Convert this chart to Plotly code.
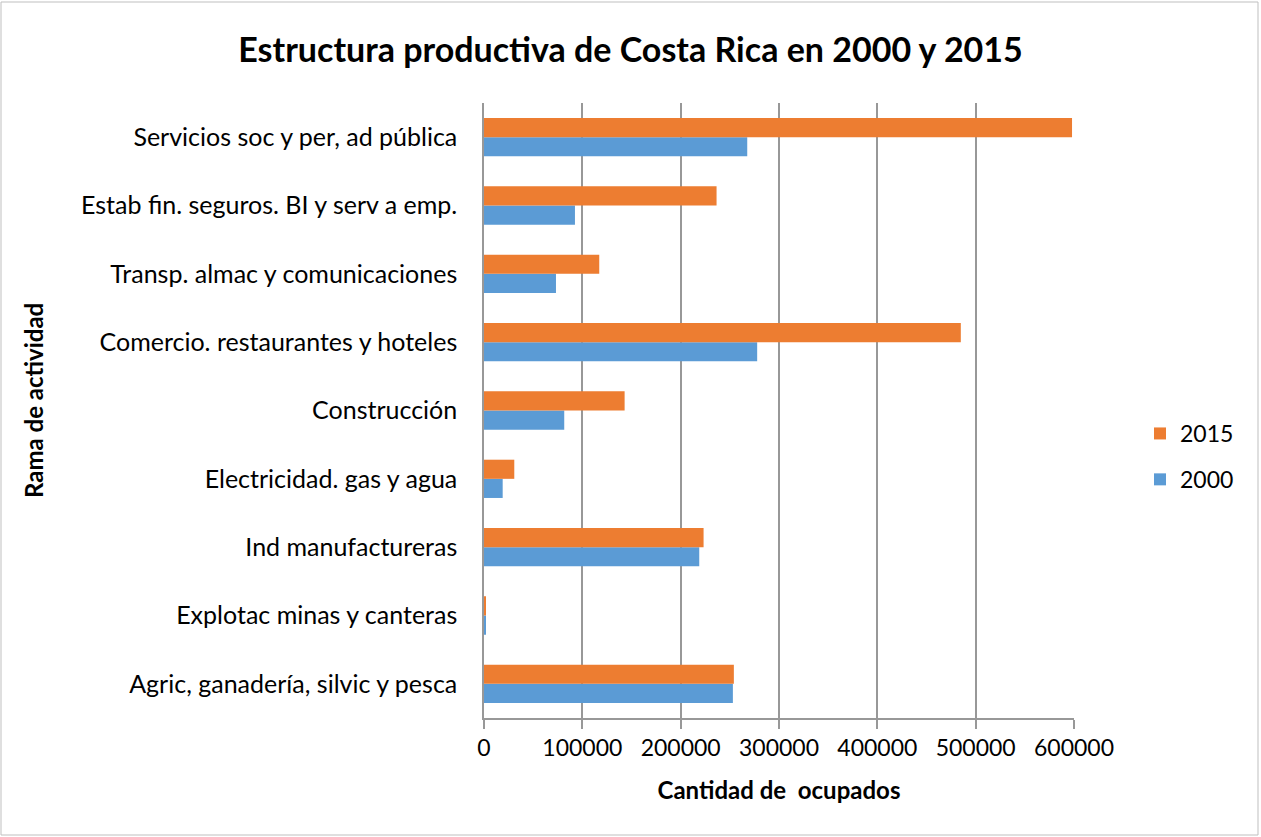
import plotly.graph_objects as go

categories = [
    "Agric, ganadería, silvic y pesca",
    "Explotac minas y canteras",
    "Ind manufactureras",
    "Electricidad. gas y agua",
    "Construcción",
    "Comercio. restaurantes y hoteles",
    "Transp. almac y comunicaciones",
    "Estab fin. seguros. BI y serv a emp.",
    "Servicios soc y per, ad pública",
]
values_2000 = [253100, 2000, 218900, 19000, 81600, 277800, 73200, 92500, 267700]
values_2015 = [254100, 1300, 223300, 30800, 143000, 484900, 117200, 236500, 598000]
x_ticks = [0, 100000, 200000, 300000, 400000, 500000, 600000]

FONT = "Lato"
W, H = 1261, 837
ML, MR, MT, MB = 484, 187, 103, 119
PW, PH = W - ML - MR, H - MT - MB

fig = go.Figure()
fig.add_trace(go.Bar(y=categories, x=values_2000, name="2000", orientation="h",
                     legendgroup="a", legendrank=2,
                     marker=dict(color="#5B9BD5", line=dict(width=0))))
fig.add_trace(go.Bar(y=categories, x=values_2015, name="2015", orientation="h",
                     legendgroup="b", legendrank=1,
                     marker=dict(color="#ED7D31", line=dict(width=0))))

def px_x(p):
    return (p - ML) / PW

def px_y(p):
    return (H - MB - p) / PH

fig.update_layout(
    width=W, height=H,
    margin=dict(l=ML, r=MR, t=MT, b=MB),
    paper_bgcolor="white", plot_bgcolor="white",
    barmode="group", bargap=0.44, bargroupgap=0,
    font=dict(family=FONT, color="#000000", size=23),
    title=dict(text="<b>Estructura productiva de Costa Rica en 2000 y 2015</b>",
               x=0.5, xanchor="center", xref="container", y=1 - 50 / H, yanchor="middle",
               font=dict(family=FONT, size=34, color="#000000")),
    xaxis=dict(range=[0, 600000], tickvals=x_ticks, ticktext=[str(v) for v in x_ticks],
               showgrid=True, gridcolor="#989898", gridwidth=1.5,
               showline=True, linecolor="#989898", linewidth=1.5,
               ticks="outside", ticklen=9, tickcolor="#989898", tickwidth=1.5,
               tickfont=dict(size=23, color="#000000"), zeroline=False,
               title=dict(text="<b>Cantidad de  ocupados</b>", font=dict(size=24), standoff=22),
               fixedrange=True),
    yaxis=dict(showgrid=False, showline=True, linecolor="#989898", linewidth=1.5,
               ticks="", ticklabelstandoff=20,
               tickfont=dict(size=25, color="#000000"),
               fixedrange=True),
    legend=dict(x=px_x(1140), y=px_y(412), xanchor="left", yanchor="top",
                traceorder="grouped", font=dict(size=23), tracegroupgap=13,
                itemwidth=30, bgcolor="rgba(0,0,0,0)"),
    annotations=[dict(text="<b>Rama de actividad</b>", xref="paper", yref="paper",
                      x=px_x(33), y=px_y(400), textangle=-90, showarrow=False,
                      xanchor="center", yanchor="middle", font=dict(size=24, color="#000000"))],
    shapes=[dict(type="rect", xref="paper", yref="paper",
                 x0=px_x(1), x1=px_x(1258), y0=px_y(835), y1=px_y(2),
                 line=dict(color="#BFBFBF", width=1))],
)

fig.write_html("out.html", config={"displayModeBar": False},
               post_script="document.body.style.margin='0';")
